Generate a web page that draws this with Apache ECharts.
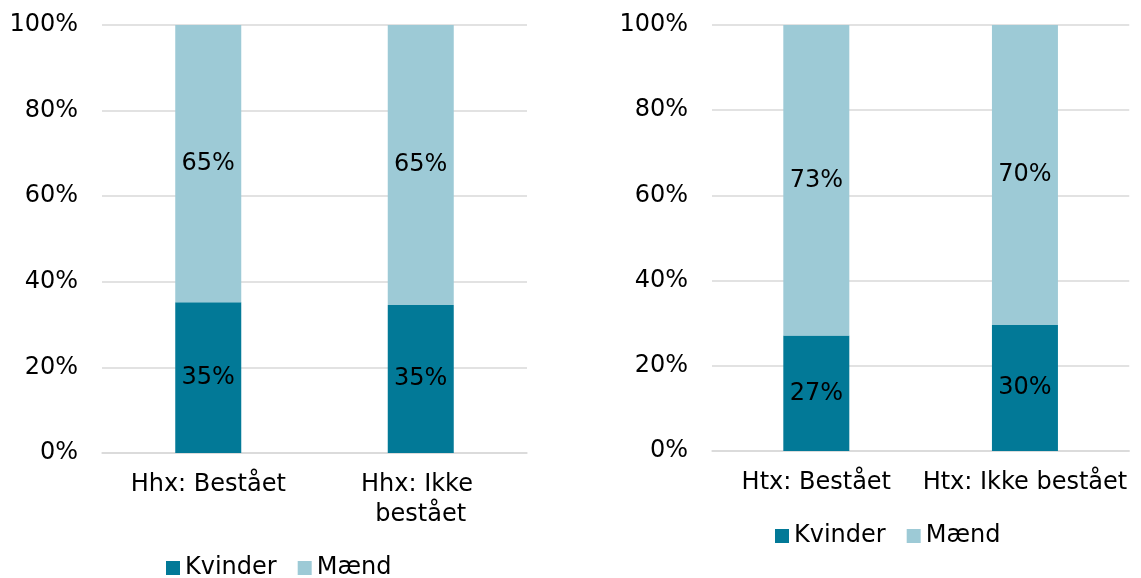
<!DOCTYPE html>
<html>
<head>
<meta charset="utf-8">
<script src="https://cdn.jsdelivr.net/npm/echarts@6/dist/echarts.min.js"></script>
<style>
html,body{margin:0;padding:0;background:#fff;}
#c{width:1141px;height:578px;}
</style>
</head>
<body>
<div id="c"></div>
<script>
const categoriesHhx = ['Hhx: Bestået', 'Hhx: Ikke bestået'];
const categoriesHtx = ['Htx: Bestået', 'Htx: Ikke bestået'];
const kvinderHhx = [35.2, 34.6];
const maendHhx = [64.8, 65.4];
const kvinderHtx = [27.1, 29.6];
const maendHtx = [72.9, 70.4];
const yTicks = { min: 0, max: 100, interval: 20 };
const seriesNames = ['Kvinder', 'Mænd'];

const FONT = 'DejaVu Sans';
const DARK = '#027997';
const LIGHT = '#9dcad6';
const GRIDC = '#d9d9d9';

const chart = echarts.init(document.getElementById('c'), null, { renderer: 'canvas' });

function yAxis(idx) {
  return {
    type: 'value', gridIndex: idx, min: yTicks.min, max: yTicks.max, interval: yTicks.interval,
    axisLine: { show: false }, axisTick: { show: false },
    axisLabel: { formatter: '{value}%', color: '#000', fontFamily: FONT, fontSize: 24, margin: 24 },
    splitLine: { lineStyle: { color: GRIDC, width: 1.5 } }
  };
}
function xAxis(idx, cats, wrapWidth) {
  return {
    type: 'category', gridIndex: idx, data: cats,
    axisLine: { lineStyle: { color: GRIDC, width: 1.5 } },
    axisTick: { show: false },
    axisLabel: { color: '#000', fontFamily: FONT, fontSize: 24, margin: 17, lineHeight: 30,
      width: wrapWidth, overflow: 'break', interval: 0 }
  };
}
const labelStyle = {
  show: true, position: 'inside', color: '#000', fontFamily: FONT, fontSize: 24,
  formatter: p => Math.round(p.value) + '%'
};
function bar(name, data, idx, color, stack) {
  return {
    name, type: 'bar', stack, xAxisIndex: idx, yAxisIndex: idx, data,
    barWidth: 66, itemStyle: { color }, label: labelStyle
  };
}
const legendText = { color: '#000', fontFamily: FONT, fontSize: 24 };

chart.setOption({
  animation: false,
  textStyle: { fontFamily: FONT },
  grid: [
    { left: 102, top: 25, width: 425, height: 428 },
    { left: 712, top: 25, width: 425, height: 426 }
  ],
  legend: [
    { data: seriesNames, left: 166, top: 556, padding: 0, itemWidth: 14, itemHeight: 14, itemGap: 21,
      icon: 'rect', textStyle: legendText },
    { data: seriesNames, left: 775, top: 524, padding: 0, itemWidth: 14, itemHeight: 14, itemGap: 21,
      icon: 'rect', textStyle: legendText }
  ],
  xAxis: [ xAxis(0, categoriesHhx, 190), xAxis(1, categoriesHtx, 230) ],
  yAxis: [ yAxis(0), yAxis(1) ],
  series: [
    bar(seriesNames[0], kvinderHhx, 0, DARK, 'a'),
    bar(seriesNames[1], maendHhx, 0, LIGHT, 'a'),
    bar(seriesNames[0], kvinderHtx, 1, DARK, 'b'),
    bar(seriesNames[1], maendHtx, 1, LIGHT, 'b')
  ]
});
</script>
</body>
</html>
